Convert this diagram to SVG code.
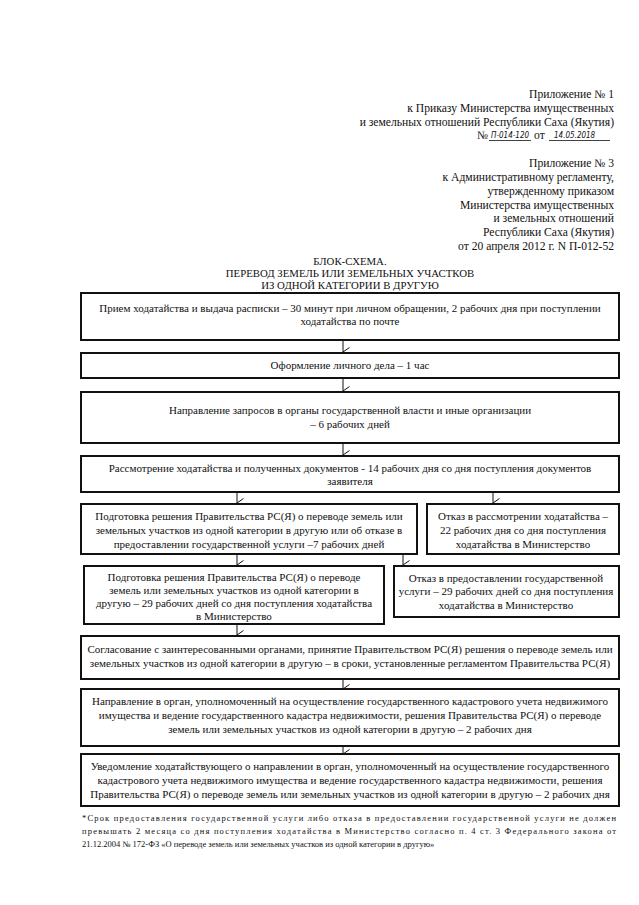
<svg xmlns="http://www.w3.org/2000/svg" width="639" height="905" viewBox="0 0 639 905">
<style>
text{font-family:"Liberation Serif","Times New Roman",serif;fill:#111}
.h{font-size:11.6px;text-anchor:end}
.t{font-size:10.8px;text-anchor:middle}
.b{font-size:11px;text-anchor:middle}
.f{font-size:8.5px}
.hw{font-family:"DejaVu Sans Condensed","DejaVu Sans",sans-serif;font-style:italic;font-size:8px}
.box{fill:#fff;stroke:#111;stroke-width:2}
.c{stroke:#111;stroke-width:1;fill:none}
</style>
<defs>
<marker id="ah" markerWidth="12" markerHeight="10" refX="5" refY="7" orient="auto" markerUnits="userSpaceOnUse" viewBox="0 0 12 10">
<path d="M0.5,0.5 L5,7 L9.5,0.5" fill="none" stroke="#111" stroke-width="1"/>
</marker>
</defs>
<rect width="639" height="905" fill="#fff"/>
<g id="header">
<text class="h" x="614" y="98">Приложение № 1</text>
<text class="h" x="614" y="112">к Приказу Министерства имущественных</text>
<text class="h" x="614" y="126">и земельных отношений Республики Саха (Якутия)</text>
<text x="477" y="139" style="font-size:11.6px">№<tspan class="hw" x="491" y="138">П-014-120</tspan><tspan x="534" y="139">от</tspan><tspan class="hw" x="554" y="138">14.05.2018</tspan></text>
<line x1="489" y1="140.5" x2="531" y2="140.5" stroke="#111" stroke-width="0.8"/>
<line x1="549" y1="140.5" x2="610" y2="140.5" stroke="#111" stroke-width="0.8"/>
<text class="h" x="614" y="167">Приложение № 3</text>
<text class="h" x="614" y="181">к Административному регламенту,</text>
<text class="h" x="614" y="195">утвержденному приказом</text>
<text class="h" x="614" y="209">Министерства имущественных</text>
<text class="h" x="614" y="222">и земельных отношений</text>
<text class="h" x="614" y="236">Республики Саха (Якутия)</text>
<text class="h" x="614" y="250">от 20 апреля 2012 г. N П-012-52</text>
</g>
<g id="title">
<text class="t" x="350" y="265">БЛОК-СХЕМА.</text>
<text class="t" x="350" y="277">ПЕРЕВОД ЗЕМЕЛЬ ИЛИ ЗЕМЕЛЬНЫХ УЧАСТКОВ</text>
<text class="t" x="350" y="289">ИЗ ОДНОЙ КАТЕГОРИИ В ДРУГУЮ</text>
</g>
<g id="connectors">
<line class="c" x1="343" y1="341" x2="343" y2="352" marker-end="url(#ah)"/>
<line class="c" x1="343" y1="379" x2="343" y2="391" marker-end="url(#ah)"/>
<line class="c" x1="343" y1="444" x2="343" y2="455" marker-end="url(#ah)"/>
<line class="c" x1="237" y1="493" x2="237" y2="503" marker-end="url(#ah)"/>
<line class="c" x1="493" y1="493" x2="493" y2="503" marker-end="url(#ah)"/>
<line class="c" x1="237" y1="555" x2="237" y2="565" marker-end="url(#ah)"/>
<line class="c" x1="403" y1="555" x2="403" y2="565" marker-end="url(#ah)"/>
<line class="c" x1="237" y1="625" x2="237" y2="635" marker-end="url(#ah)"/>
<line class="c" x1="343" y1="680" x2="343" y2="689" marker-end="url(#ah)"/>
<line class="c" x1="343" y1="747" x2="343" y2="754" marker-end="url(#ah)"/>
</g>
<g id="n1">
<rect class="box" x="81" y="293" width="538" height="47"/>
<text class="b" x="350" y="312">Прием ходатайства и выдача расписки – 30 минут при личном обращении, 2 рабочих дня при поступлении</text>
<text class="b" x="350" y="325">ходатайства по почте</text>
</g>
<g id="n2">
<rect class="box" x="81" y="353" width="538" height="25"/>
<text class="b" x="350" y="369">Оформление личного дела – 1 час</text>
</g>
<g id="n3">
<rect class="box" x="81" y="392" width="538" height="51"/>
<text class="b" x="350" y="414">Направление запросов в органы государственной власти и иные организации</text>
<text class="b" x="350" y="428">– 6 рабочих дней</text>
</g>
<g id="n4">
<rect class="box" x="81" y="456" width="538" height="36"/>
<text class="b" x="350" y="472">Рассмотрение ходатайства и полученных документов - 14 рабочих дня со дня поступления документов</text>
<text class="b" x="350" y="485">заявителя</text>
</g>
<g id="n5">
<rect class="box" x="81" y="504" width="336" height="50"/>
<text class="b" x="249" y="520">Подготовка решения Правительства РС(Я) о переводе земель или</text>
<text class="b" x="249" y="534">земельных участков из одной категории в другую или об отказе в</text>
<text class="b" x="249" y="548">предоставлении государственной услуги –7 рабочих дней</text>
</g>
<g id="n6">
<rect class="box" x="427" y="504" width="192" height="50"/>
<text class="b" x="523" y="520">Отказ в рассмотрении ходатайства –</text>
<text class="b" x="523" y="534">22 рабочих дня со дня поступления</text>
<text class="b" x="523" y="548">ходатайства в Министерство</text>
</g>
<g id="n7">
<rect class="box" x="84" y="566" width="300" height="58"/>
<text class="b" x="234" y="581">Подготовка решения Правительства РС(Я) о переводе</text>
<text class="b" x="234" y="594">земель или земельных участков из одной категории в</text>
<text class="b" x="234" y="607">другую – 29 рабочих дней со дня поступления ходатайства</text>
<text class="b" x="234" y="620">в Министерство</text>
</g>
<g id="n8">
<rect class="box" x="394" y="566" width="225" height="51"/>
<text class="b" x="506" y="582">Отказ в предоставлении  государственной</text>
<text class="b" x="506" y="595">услуги – 29 рабочих дней со дня поступления</text>
<text class="b" x="506" y="609">ходатайства в Министерство</text>
</g>
<g id="n9">
<rect class="box" x="81" y="636" width="538" height="43"/>
<text class="b" x="350" y="653">Согласование с заинтересованными органами, принятие Правительством РС(Я) решения о переводе земель или</text>
<text class="b" x="350" y="667">земельных участков из одной категории в другую – в сроки, установленные регламентом Правительства РС(Я)</text>
</g>
<g id="n10">
<rect class="box" x="81" y="689" width="538" height="57"/>
<text class="b" x="350" y="705">Направление в орган, уполномоченный на осуществление государственного кадастрового учета недвижимого</text>
<text class="b" x="350" y="719">имущества и ведение государственного кадастра недвижимости, решения Правительства РС(Я) о переводе</text>
<text class="b" x="350" y="733">земель или земельных участков из одной категории в другую – 2 рабочих дня</text>
</g>
<g id="n11">
<rect class="box" x="81" y="754" width="538" height="52"/>
<text class="b" x="350" y="770">Уведомление ходатайствующего о направлении в орган, уполномоченный на осуществление государственного</text>
<text class="b" x="350" y="784">кадастрового учета недвижимого имущества и ведение государственного кадастра недвижимости, решения</text>
<text class="b" x="350" y="798">Правительства РС(Я) о переводе земель или земельных участков из одной категории в другую – 2 рабочих дня</text>
</g>
<g id="footnote">
<text class="f" x="82" y="821" textLength="534" lengthAdjust="spacing">*Срок предоставления государственной услуги либо отказа в предоставлении государственной услуги не должен</text>
<text class="f" x="82" y="834" textLength="534" lengthAdjust="spacing">превышать 2 месяца со дня поступления ходатайства в Министерство согласно п. 4 ст. 3 Федерального закона от</text>
<text class="f" x="82" y="847">21.12.2004 № 172-ФЗ «О переводе земель или земельных участков из одной категории в другую»</text>
</g>
</svg>
